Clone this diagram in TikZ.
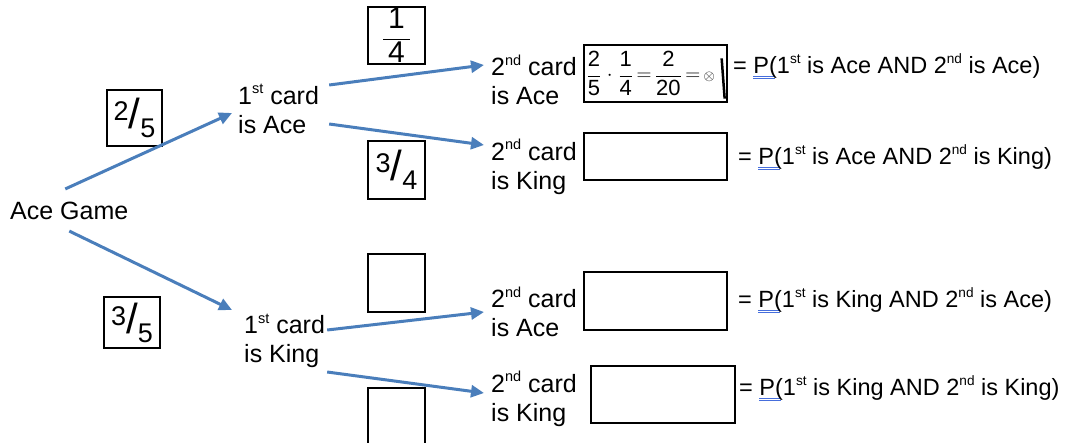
\documentclass[tikz,border=0pt]{standalone}
\usepackage{fontspec}
\setmainfont{Liberation Sans}
\usetikzlibrary{arrows.meta,calc}
\definecolor{arrblue}{RGB}{74,126,187}
\definecolor{ulblue}{RGB}{70,110,220}
\newcommand{\sups}[1]{\raisebox{0.42em}{\scalebox{0.58}{#1}}}
\newcommand{\myPu}{\makebox[0pt][l]{\color{ulblue}\rule[-3.5pt]{22pt}{0.7pt}}\makebox[0pt][l]{\color{ulblue}\rule[-5.5pt]{22pt}{0.7pt}}P(}
\newcommand{\hfr}[2]{\raisebox{8pt}{#1}{\fontsize{42}{42}\selectfont/}\raisebox{-9pt}{#2}}
\begin{document}
\begin{tikzpicture}[x=1pt,y=-1pt,
  lbl/.style={font=\fontsize{25}{29}\selectfont, align=left, inner sep=0pt, anchor=west},
  res/.style={font=\fontsize{23.5}{25}\selectfont, inner sep=0pt, anchor=west},
  fbox/.style={draw, line width=1.3pt, minimum width=56pt, minimum height=56pt, inner sep=0pt, font=\fontsize{27}{27}\selectfont},
  abox/.style={draw, line width=1.3pt, minimum width=143pt, minimum height=57pt, inner sep=0pt},
  arr/.style={draw=arrblue, line width=3pt, -{Triangle[length=13pt,width=12pt]}}
]
\useasboundingbox (0,0) rectangle (1068,442);

% labels
\node[lbl] (ag) at (10,211) {Ace Game};
\node[lbl] (a1) at (238,109) {1\sups{st} card\\is Ace};
\node[lbl] (k1) at (244,341) {1\sups{st} card\\is King};
\node[lbl] (a2) at (491,80) {2\sups{nd} card\\is Ace};
\node[lbl] (k2) at (491,167) {2\sups{nd} card\\is King};
\node[lbl] (a3) at (491,312) {2\sups{nd} card\\is Ace};
\node[lbl] (k3) at (491,399) {2\sups{nd} card\\is King};

% fraction boxes
\node[fbox, minimum width=55pt] (f1) at (134.5,118) {\hfr{2}{5}};
\node[fbox, minimum height=51pt] (f2) at (132,322.5) {\hfr{3}{5}};
\node[fbox, minimum width=57pt, minimum height=57pt, font=\fontsize{30}{30}\selectfont] (f3) at (396.5,35.5) {$\displaystyle\frac{\mbox{\,1\,}}{\mbox{\,4\,}}$};
\node[fbox, minimum width=57pt, minimum height=58pt] (f4) at (396.5,170) {\hfr{3}{4}};
\node[fbox, minimum width=57pt, minimum height=58pt] (f5) at (396.5,283) {};
\node[fbox, minimum width=57pt, minimum height=58pt] (f6) at (396.5,417) {};

% answer boxes
\node[abox] (b1) at (655.5,73.5) {};
\node[abox, minimum height=47pt] (b2) at (655.5,156.5) {};
\node[abox, minimum height=58pt] (b3) at (655.5,301) {};
\node[abox, minimum width=144pt] (b4) at (663,394.5) {};

\node[anchor=west, inner sep=0pt, font=\fontsize{22}{22}\selectfont] (calc1) at ($(b1.west)+(3,0)$)
  {$\displaystyle\frac{\mbox{2}}{\mbox{5}}\;{\cdot}\;\frac{\mbox{1}}{\mbox{4}}\,{=}\,\frac{\mbox{2}}{\mbox{20}}\,{=}\,{\scriptstyle\otimes}$};
\draw[line width=2.5pt] ($(b1.north east)+(-6,14)$) -- ($(b1.south east)+(-3,-4)$);

% results
\node[res] (r1) at (733,66) {= \myPu1\sups{st} is Ace AND 2\sups{nd} is Ace)};
\node[res] (r2) at (738,157) {= \myPu1\sups{st} is Ace AND 2\sups{nd} is King)};
\node[res] (r3) at (738,300) {= \myPu1\sups{st} is King AND 2\sups{nd} is Ace)};
\node[res] (r4) at (739,388) {= \myPu1\sups{st} is King AND 2\sups{nd} is King)};

% arrows
\draw[arr] ($(ag.north)+(-4,-13)$) -- ($(a1.west)+(-6,4)$);
\draw[arr] ($(ag.south)+(0,11)$) -- ($(k1.west)+(-12,-31)$);
\draw[arr] ($(a1.east)+(10,-24)$) -- ($(a2.west)+(-7,-15)$);
\draw[arr] ($(a1.east)+(10,15)$) -- ($(k2.west)+(-7,-22)$);
\draw[arr] ($(k1.east)+(2,-11)$) -- ($(a3.west)+(-7,0)$);
\draw[arr] ($(k1.east)+(2,31)$) -- ($(k3.west)+(-7,-6)$);
\end{tikzpicture}
\end{document}
